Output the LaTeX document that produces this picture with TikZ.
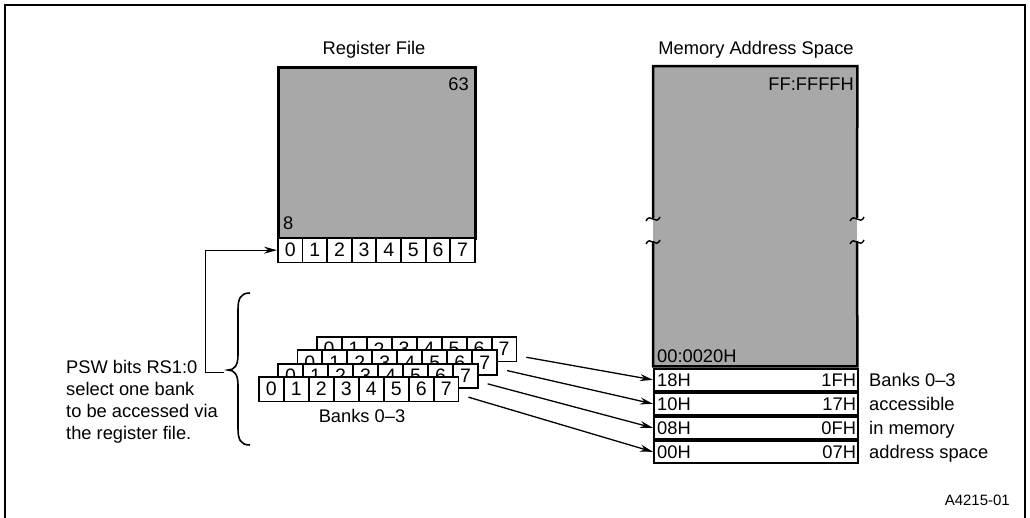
\documentclass[tikz,border=0pt]{standalone}
\usepackage{fontspec}
\setmainfont{Liberation Sans}
\usetikzlibrary{arrows.meta}
\begin{document}
\begin{tikzpicture}[x=1pt,y=-1pt,
  lbl/.style={font=\fontsize{18.3}{20}\selectfont, inner sep=0pt},
  small/.style={font=\fontsize{15}{18}\selectfont, inner sep=0pt},
  cell/.style={draw, line width=1.8pt, fill=white, minimum width=24.6pt, minimum height=24.5pt, inner sep=0pt, font=\fontsize{19.5}{20}\selectfont, anchor=north west},
  row/.style={draw, line width=2.2pt, fill=white, minimum width=204pt, minimum height=22.5pt, inner sep=0pt, anchor=north west},
  graybox/.style={fill=shade, inner sep=0pt, anchor=north west},
  box/.style={line width=2.5pt},
  arr/.style={line width=1.3pt, -{Stealth[length=13pt,width=7pt]}},
  tilde/.style={line width=1.4pt},
]
\definecolor{shade}{RGB}{168,168,168}
\useasboundingbox (0,0) rectangle (1030,517);
% outer frame
\draw[line width=1.6pt] (5,5) rectangle (1025,520);

% ---------- Register file ----------
\node[lbl, anchor=base] (regtitle) at (374,54) {Register File};
\node[graybox, draw, line width=2.5pt, minimum width=197pt, minimum height=171pt] (reg) at (277,66) {};
\node[lbl, anchor=base east] (r63) at (469,90) {63};
\node[lbl, anchor=base west] (r8) at (283,229) {8};
\foreach \i in {0,...,7} {
  \node[cell] (r\i) at ({277+24.625*\i},237) {\i};
}

% ---------- Memory address space ----------
\node[lbl, anchor=base] (memtitle) at (756,54) {Memory Address Space};
\node[graybox, minimum width=204pt, minimum height=300pt] (mem) at (653,66) {};
\draw[box] (653,218) -- (mem.north west) -- (mem.north east) -- (857,218);
\draw[box] (653,241) -- (mem.south west) -- (mem.south east) -- (857,241);
\foreach \xx in {653,857} {
  \draw[tilde] (\xx-7,221) .. controls (\xx-3,212) and (\xx+3,226) .. (\xx+7,217);
  \draw[tilde] (\xx-7,244) .. controls (\xx-3,235) and (\xx+3,249) .. (\xx+7,240);
}
\node[lbl, anchor=base east] (mff) at (854,90) {FF:FFFFH};
\node[lbl, anchor=base west] (m20) at (657,362) {00:0020H};

\foreach \j/\lo/\hi in {0/18H/1FH,1/10H/17H,2/08H/0FH,3/00H/07H} {
  \node[row] (m\j) at (653,{367.5+24*\j}) {};
  \node[lbl, anchor=west] (ml\j) at ([xshift=4pt]m\j.west) {\lo};
  \node[lbl, anchor=east] (mh\j) at ([xshift=-3pt]m\j.east) {\hi};
}
\node[lbl, anchor=base west] (t1) at (869,386) {Banks 0--3};
\node[lbl, anchor=base west] (t2) at (869,410) {accessible};
\node[lbl, anchor=base west] (t3) at (869,434) {in memory};
\node[lbl, anchor=base west] (t4) at (869,458) {address space};

% ---------- Banks ----------
\foreach \k in {3,2,1,0} {
  \foreach \i in {0,...,7} {
    \node[cell] (b\k\i) at ({258+19.3*\k+25*\i},{376-13.3*\k}) {\i};
  }
}
\node[lbl, anchor=base] (bl) at (362,422) {Banks 0--3};

\foreach \k/\j in {3/0,2/1,1/2,0/3} {
  \draw[arr] ([xshift=9pt,yshift=-8pt]b\k7.east) -- (m\j.west);
}

% ---------- Brace and PSW ----------
\draw[line width=1.6pt] (250,293) .. controls (240,293) and (238,299) .. (238,310) -- (238,355)
   .. controls (238,366) and (234,370) .. (228,370)
   .. controls (234,370) and (238,374) .. (238,385) -- (238,428)
   .. controls (238,439) and (240,445) .. (250,445);
\coordinate (bt) at (224,372);
\draw[arr, line width=1pt] (bt) -- (205,372) |- (r0.west);

\node[lbl, anchor=base west] (p1) at (66,373) {PSW bits RS1:0};
\node[lbl, anchor=base west] (p2) at (66,395) {select one bank};
\node[lbl, anchor=base west] (p3) at (66,417) {to be accessed via};
\node[lbl, anchor=base west] (p4) at (66,439) {the register file.};

\node[small, anchor=base east] (fig) at (1010,505) {A4215-01};
\end{tikzpicture}
\end{document}
